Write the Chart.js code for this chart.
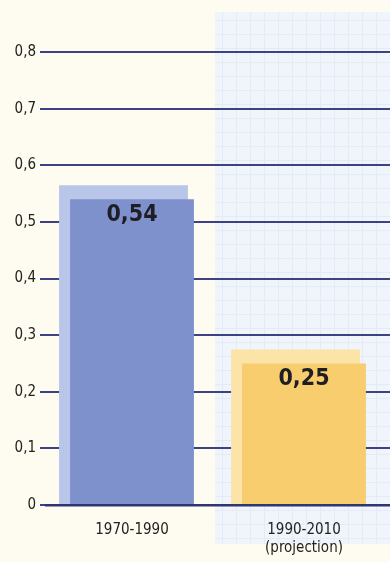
<!DOCTYPE html>
<html>
<head>
<meta charset="utf-8">
<script src="https://cdn.jsdelivr.net/npm/chart.js@4.4.1/dist/chart.umd.min.js"></script>
<style>
  html, body { margin: 0; padding: 0; background: #fefcf0; }
  #wrap { width: 390px; height: 562px; }
</style>
</head>
<body>
<div id="wrap"><canvas id="chart" width="390" height="562"></canvas></div>
<script>
const periods = [['1970-1990'], ['1990-2010', '(projection)']]
const values = [0.54, 0.25]
const valueLabels = ['0,54', '0,25']
const frontColors = ['#7f91cd', '#f7cd6d']
const backColors = ['#b9c6e9', '#fce3a8']

// two-tone page background: cream on the left, pale blue grid on the right
const backdrop = {
    id: 'backdrop',
    beforeDraw(chart) {
        const ctx = chart.ctx
        ctx.save()
        ctx.fillStyle = '#fefcf0'
        ctx.fillRect(0, 0, chart.width, chart.height)
        ctx.fillStyle = '#f0f4fb'
        ctx.fillRect(215, 12, chart.width - 215, 532)
        ctx.strokeStyle = '#e4ebf6'
        ctx.lineWidth = 1
        for (let x = 222; x < chart.width; x += 14) {
            ctx.beginPath(); ctx.moveTo(x + 0.5, 12); ctx.lineTo(x + 0.5, 544); ctx.stroke()
        }
        for (let y = 20; y < 544; y += 14) {
            ctx.beginPath(); ctx.moveTo(215, y + 0.5); ctx.lineTo(chart.width, y + 0.5); ctx.stroke()
        }
        ctx.restore()
    }
}

// lighter back face behind each bar for the 3d look, plus value text on top
const bars3d = {
    id: 'bars3d',
    beforeDatasetsDraw(chart) {
        const ctx = chart.ctx
        const meta = chart.getDatasetMeta(0)
        ctx.save()
        meta.data.forEach((bar, i) => {
            const w = bar.width
            ctx.fillStyle = backColors[i]
            ctx.fillRect(bar.x - w / 2 - 11, bar.y - 14, w + 5, bar.base - bar.y + 14)
        })
        ctx.restore()
    },
    afterDatasetsDraw(chart) {
        const ctx = chart.ctx
        const meta = chart.getDatasetMeta(0)
        ctx.save()
        ctx.font = "bold 23px 'Liberation Sans Narrow', 'DejaVu Sans Condensed', sans-serif"
        ctx.fillStyle = '#1e1e24'
        ctx.textAlign = 'center'
        ctx.textBaseline = 'middle'
        meta.data.forEach((bar, i) => {
            ctx.fillText(valueLabels[i], bar.x, bar.y + 16)
        })
        ctx.restore()
    }
}

new Chart(document.getElementById('chart'), {
    type: 'bar',
    data: {
        labels: periods,
        datasets: [{
            data: values,
            backgroundColor: frontColors,
            borderWidth: 0,
            barPercentage: 0.72,
            categoryPercentage: 1
        }]
    },
    options: {
        responsive: false,
        animation: false,
        layout: { padding: { top: 52, right: 0, left: 0, bottom: 0 } },
        plugins: { legend: { display: false }, tooltip: { enabled: false } },
        scales: {
            x: {
                grid: { display: false },
                border: { color: '#2f3572', width: 2.5 },
                ticks: {
                    padding: 8,
                    color: '#222222',
                    font: { family: "'Liberation Sans Narrow', 'DejaVu Sans Condensed', sans-serif", size: 15 }
                },
                afterFit: scale => { scale.height = 57 }
            },
            y: {
                min: 0,
                max: 0.8,
                ticks: {
                    stepSize: 0.1,
                    padding: 4,
                    color: '#222222',
                    font: { family: "'Liberation Sans Narrow', 'DejaVu Sans Condensed', sans-serif", size: 15 },
                    callback: v => v === 0 ? '0' : v.toFixed(1).replace('.', ',')
                },
                grid: { color: '#3c4283', lineWidth: 2, tickLength: 6 },
                border: { display: false },
                afterFit: scale => { scale.width = 46 }
            }
        }
    },
    plugins: [backdrop, bars3d]
})
</script>
</body>
</html>
